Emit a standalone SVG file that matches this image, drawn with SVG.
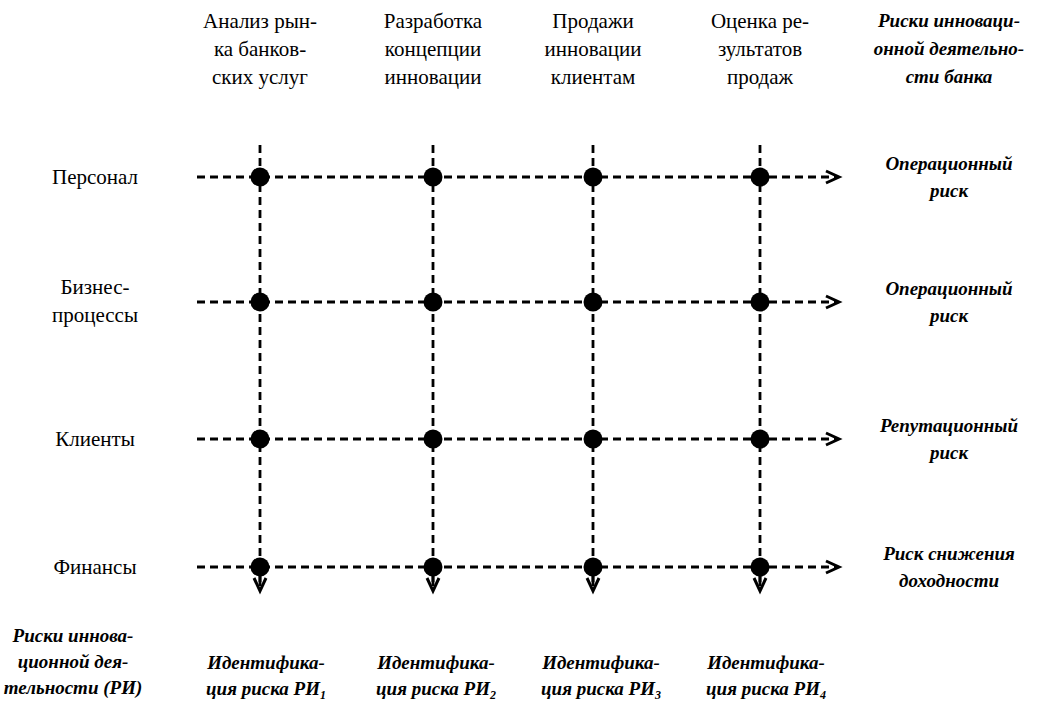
<svg xmlns="http://www.w3.org/2000/svg" width="1038" height="702" viewBox="0 0 1038 702">
<defs>
<style>
.hd{font-family:'Liberation Serif','Times New Roman',serif;font-size:21px;fill:#000;text-anchor:middle}
.bi{font-family:'Liberation Serif','Times New Roman',serif;font-size:19px;font-weight:bold;font-style:italic;fill:#000;text-anchor:middle}
.ln{stroke:#000;stroke-width:2.8;stroke-dasharray:8 5;fill:none}
.dot{fill:#000}
.ah{stroke:#000;stroke-width:3;fill:none;stroke-linecap:butt}
.stem{stroke:#000;stroke-width:2.8}
</style>
</defs>
<rect width="1038" height="702" fill="#fff"/>
<g id="col-headers">
<g id="col1"><text class="hd" x="260" y="28">Анализ рын-</text><text class="hd" x="260" y="56">ка банков-</text><text class="hd" x="260" y="84">ских услуг</text></g>
<g id="col2"><text class="hd" x="433" y="28">Разработка</text><text class="hd" x="433" y="56">концепции</text><text class="hd" x="433" y="84">инновации</text></g>
<g id="col3"><text class="hd" x="593" y="28">Продажи</text><text class="hd" x="593" y="56">инновации</text><text class="hd" x="593" y="84">клиентам</text></g>
<g id="col4"><text class="hd" x="760" y="28">Оценка ре-</text><text class="hd" x="760" y="56">зультатов</text><text class="hd" x="760" y="84">продаж</text></g>
<g id="risk-header"><text class="bi" x="949" y="27">Риски инноваци-</text><text class="bi" x="949" y="55">онной деятельно-</text><text class="bi" x="949" y="83">сти банка</text></g>
</g>
<g id="row-labels">
<g id="row1"><text class="hd" x="95" y="184">Персонал</text></g>
<g id="row2"><text class="hd" x="95" y="294">Бизнес-</text><text class="hd" x="95" y="322">процессы</text></g>
<g id="row3"><text class="hd" x="95" y="446">Клиенты</text></g>
<g id="row4"><text class="hd" x="95" y="574">Финансы</text></g>
</g>
<g id="risk-labels">
<g id="risk1"><text class="bi" x="949" y="170">Операционный</text><text class="bi" x="949" y="197">риск</text></g>
<g id="risk2"><text class="bi" x="949" y="295">Операционный</text><text class="bi" x="949" y="322">риск</text></g>
<g id="risk3"><text class="bi" x="949" y="432">Репутационный</text><text class="bi" x="949" y="459">риск</text></g>
<g id="risk4"><text class="bi" x="949" y="560">Риск снижения</text><text class="bi" x="949" y="587">доходности</text></g>
</g>
<g id="connectors">
<line class="ln" x1="260" y1="145" x2="260" y2="582"/>
<line class="ln" x1="433" y1="145" x2="433" y2="582"/>
<line class="ln" x1="593" y1="145" x2="593" y2="582"/>
<line class="ln" x1="760" y1="145" x2="760" y2="582"/>
<line class="ln" x1="197" y1="177" x2="836" y2="177"/>
<line class="ln" x1="197" y1="302" x2="836" y2="302"/>
<line class="ln" x1="197" y1="439" x2="836" y2="439"/>
<line class="ln" x1="197" y1="567" x2="836" y2="567"/>
<line class="stem" x1="260" y1="567" x2="260" y2="586"/>
<line class="stem" x1="433" y1="567" x2="433" y2="586"/>
<line class="stem" x1="593" y1="567" x2="593" y2="586"/>
<line class="stem" x1="760" y1="567" x2="760" y2="586"/>
<polyline class="ah" points="254,578 260,591 266,578"/>
<polyline class="ah" points="427,578 433,591 439,578"/>
<polyline class="ah" points="587,578 593,591 599,578"/>
<polyline class="ah" points="754,578 760,591 766,578"/>
<polyline class="ah" points="826,171 839,177 826,183"/>
<polyline class="ah" points="826,296 839,302 826,308"/>
<polyline class="ah" points="826,433 839,439 826,445"/>
<polyline class="ah" points="826,561 839,567 826,573"/>
</g>
<g id="dots">
<circle class="dot" cx="260" cy="177" r="9.5"/><circle class="dot" cx="433" cy="177" r="9.5"/><circle class="dot" cx="593" cy="177" r="9.5"/><circle class="dot" cx="760" cy="177" r="9.5"/>
<circle class="dot" cx="260" cy="302" r="9.5"/><circle class="dot" cx="433" cy="302" r="9.5"/><circle class="dot" cx="593" cy="302" r="9.5"/><circle class="dot" cx="760" cy="302" r="9.5"/>
<circle class="dot" cx="260" cy="439" r="9.5"/><circle class="dot" cx="433" cy="439" r="9.5"/><circle class="dot" cx="593" cy="439" r="9.5"/><circle class="dot" cx="760" cy="439" r="9.5"/>
<circle class="dot" cx="260" cy="567" r="9.5"/><circle class="dot" cx="433" cy="567" r="9.5"/><circle class="dot" cx="593" cy="567" r="9.5"/><circle class="dot" cx="760" cy="567" r="9.5"/>
</g>
<g id="bottom-labels">
<g id="ri-label"><text class="bi" x="73" y="642">Риски иннова-</text><text class="bi" x="73" y="668">ционной дея-</text><text class="bi" x="73" y="694">тельности (РИ)</text></g>
<g id="id1"><text class="bi" x="266" y="669">Идентифика-</text><text class="bi" x="266" y="695">ция риска РИ<tspan font-size="12" dy="4">1</tspan></text></g>
<g id="id2"><text class="bi" x="436" y="669">Идентифика-</text><text class="bi" x="436" y="695">ция риска РИ<tspan font-size="12" dy="4">2</tspan></text></g>
<g id="id3"><text class="bi" x="601" y="669">Идентифика-</text><text class="bi" x="601" y="695">ция риска РИ<tspan font-size="12" dy="4">3</tspan></text></g>
<g id="id4"><text class="bi" x="766" y="669">Идентифика-</text><text class="bi" x="766" y="695">ция риска РИ<tspan font-size="12" dy="4">4</tspan></text></g>
</g>
</svg>
